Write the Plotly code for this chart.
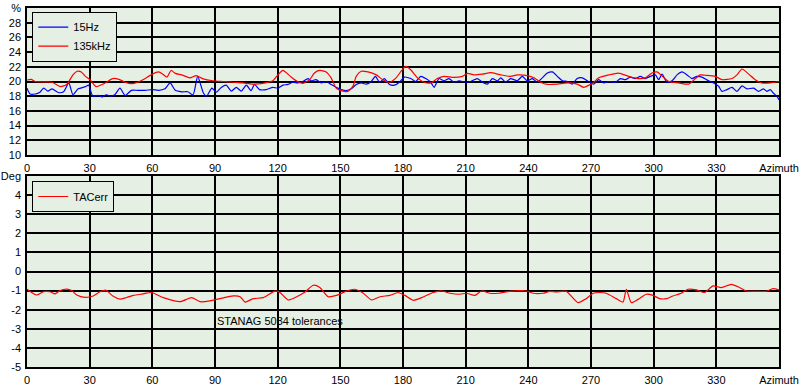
import plotly.graph_objects as go

# ---------------- data ----------------
az_15hz = [0, 1.5, 4, 6, 8, 10, 12, 15, 17.5, 20, 22, 24.5, 28, 29.5, 31.5, 34, 36, 38, 40, 42,
           44.5, 47, 50, 53, 56.5, 60, 63, 66, 68.5, 71, 74, 77, 79.5, 81.7, 84.5, 86, 88.5,
           90.6, 93, 95.4, 97.8, 100.2, 102.6, 105, 107.3, 108.9, 111.3, 114.5, 117.7, 120.1,
           122.5, 124.9, 127.3, 129.7, 132.1, 134.5, 136, 138.4, 140.8, 143.2, 145.6, 148,
           150.4, 152.8, 155.2, 157.6, 160, 162.4, 164.8, 166.8, 168.8, 171.1, 173.5, 175.9,
           178.3, 180.7, 183.7, 186.1, 188.5, 190.9, 193.3, 194.9, 197.2, 199.6, 202, 204.4,
           206.8, 210, 212.4, 215.6, 218, 220.4, 222.8, 225.2, 226.8, 229.1, 231.5, 234.7,
           237.1, 239.5, 241.9, 244.3, 246.7, 249.1, 251.5, 253.9, 256.3, 258.7, 261, 263.4,
           265.8, 268.2, 271.3, 273.7, 276.1, 278.5, 281.7, 284.1, 286.4, 288.8, 291.2, 293.6,
           296, 298.4, 300.8, 302.4, 304, 306.4, 308.8, 311.2, 313.6, 316, 318.3, 320.7, 323.1,
           326.3, 328.7, 331.1, 332.7, 335.1, 337.5, 339.9, 342.3, 344.7, 347.9, 350.2, 352.6,
           354.2, 355.8, 357.4, 359, 360]
val_15hz = [19.1, 18.3, 18.3, 18.5, 19.1, 18.7, 19.0, 18.5, 18.6, 19.8, 18.2, 19.0, 19.3, 19.5,
            18.0, 18.1, 17.9, 18.2, 18.0, 18.2, 19.1, 18.1, 18.8, 18.8, 18.8, 18.9, 18.8, 19.0,
            19.8, 18.8, 18.6, 18.6, 18.2, 20.7, 18.4, 18.0, 19.1,
            18.55, 19.2, 19.5, 18.7, 19.2, 18.7, 19.5, 18.75, 19.6, 18.9, 18.9, 19.2, 19.1,
            19.5, 19.6, 19.9, 19.8, 20.0, 20.4, 20.1, 20.25, 19.8, 20.0, 19.6, 19.2,
            18.9, 18.75, 19.0, 19.6, 19.8, 19.65, 20.0, 20.7, 19.9, 20.4, 19.6, 19.5,
            19.9, 20.6, 20.4, 20.0, 20.7, 20.4, 19.9, 19.2, 20.4, 20.1, 20.4, 19.9,
            20.1, 19.9, 20.0, 20.4, 19.9, 19.65, 20.4, 20.1, 20.5, 19.9, 20.4, 20.1,
            20.7, 20.1, 20.4, 19.9, 20.5, 21.15, 21.3, 20.7, 20.1, 20.0, 19.65, 20.4,
            20.5, 20.1, 19.65, 20.25, 19.8, 20.0, 19.9, 20.4, 20.25, 20.6, 20.4, 20.7,
            20.4, 20.7, 20.9, 20.25, 21.0, 19.9, 20.1, 20.9, 21.3, 20.9, 20.4, 20.7, 20.6,
            20.1, 19.8, 19.35, 18.65, 18.9, 19.2, 18.65, 19.4, 19.0, 19.1, 18.65, 19.0,
            18.65, 18.9, 18.4, 18.0, 17.5]

az_135khz = [0, 2, 4, 8, 12, 16, 19, 22, 24, 26, 28, 30, 33, 36, 38, 41, 44, 47, 50, 53, 56,
             60, 63, 65, 67, 69, 71, 74, 78, 81, 84, 89, 93.8, 98.6, 103.4, 108.1, 112.9,
             117.7, 120.1, 122.5, 125.7, 128.9, 132.1, 135.3, 137.6, 140, 143.2, 145.6, 148,
             150.4, 153.6, 156, 157.6, 160, 163.2, 167.2, 170.3, 173.5, 176.7, 179.1, 181.3,
             183.7, 186.9, 190.1, 193.3, 196.4, 199.6, 204.4, 208.4, 210.8, 214, 218, 222,
             226.8, 231.5, 234.7, 239.5, 242.7, 245.9, 249.1, 253.9, 258.7, 263.4, 266.6, 269,
             271, 273.7, 278.5, 283.3, 288, 292.8, 296, 299.2, 301.6, 304, 307.2, 312, 316.8,
             320, 322.3, 324.7, 329.5, 332.7, 337.5, 339.9, 342.3, 345.5, 348.6, 351.8, 355.8,
             360]
val_135khz = [20.2, 20.3, 20.0, 19.95, 19.9, 19.3, 19.6, 20.9, 21.4, 21.3, 20.7, 20.3, 19.3,
              19.6, 19.9, 20.4, 20.3, 19.9, 19.7, 19.9, 20.3, 21.0, 21.3, 21.0, 20.6, 21.5, 21.1,
              20.9, 20.5, 20.8, 20.4, 20.1, 20.0, 19.9, 19.8, 19.65, 19.75, 20.1, 20.9, 21.5,
              20.8, 20.1, 19.75, 20.25, 21.15, 21.5, 21.3, 20.5, 19.1, 18.75, 18.65, 19.35,
              20.7, 21.4, 21.3, 20.9, 20.25, 19.9, 20.5, 21.4, 22.05, 21.6, 20.5, 19.9, 19.8,
              20.4, 20.7, 20.55, 20.7, 21.1, 20.9, 21.0, 21.2, 20.9, 20.7, 20.9, 20.8, 20.5,
              19.9, 19.6, 19.65, 19.8, 19.65, 19.2, 19.5, 19.8, 20.5, 20.9, 21.15, 20.7, 20.4,
              20.5, 21.15, 21.3, 20.75, 20.0, 19.8, 19.65, 20.4, 20.9, 20.85, 20.7, 20.25, 20.4,
              20.9, 21.7, 21.0, 20.25, 19.8, 19.8, 20.0]

az_tac = [0, 4.6, 7.8, 11, 13.4, 15.8, 19, 21.4, 23.8, 27.8, 31.7, 34.9, 37.8, 41.3, 44.5,
          47.7, 50.9, 55.6, 59.6, 65.3, 73.3, 78.8, 82.8, 87.6, 92.4, 98.8, 102, 104.4, 108.3,
          113.1, 118.7, 121.1, 125.1, 129.1, 133.1, 137.1, 140.2, 144.2, 148.2, 153, 157, 161,
          165, 169, 173.7, 177.7, 180.9, 184.9, 188.9, 194.5, 198.5, 202.5, 207.2, 210.4,
          214.4, 217.6, 221.6, 225.6, 231.1, 239.1, 242.3, 247, 250.2, 253.4, 258.2, 263.8,
          267.8, 271, 274.2, 277.3, 282.1, 285.3, 286.9, 289.3, 292.5, 296.5, 299.7, 302.9,
          306.1, 309.2, 313.2, 316.4, 320.4, 324.4, 328.4, 332.4, 337.2, 341.1, 344.3, 349.1,
          353.9, 357.1, 360]
val_tac = [-0.93, -1.23, -1.06, -1.06, -1.17, -1.0, -0.92, -1.0, -1.23, -1.35, -1.28, -1.06,
           -0.98, -1.3, -1.45, -1.36, -1.25, -1.17, -1.1, -1.37, -1.58, -1.37, -1.58, -1.54,
           -1.42, -1.28, -1.32, -1.6, -1.42, -1.37, -1.03, -1.1, -1.49, -1.32, -1.07, -0.72,
           -0.84, -1.32, -1.25, -1.02, -0.93, -1.14, -1.49, -1.32, -1.25, -1.1, -1.25, -1.51,
           -1.37, -1.1, -1.02, -1.14, -1.19, -1.14, -1.25, -1.02, -1.14, -1.14, -1.04, -1.02,
           -1.14, -1.14, -1.04, -1.07, -1.04, -1.63, -1.42, -1.14, -1.1, -1.14, -1.42, -1.6,
           -0.93, -1.63, -1.46, -1.19, -1.25, -1.42, -1.42, -1.28, -1.14, -0.93, -0.96, -1.1,
           -0.75, -0.84, -0.67, -0.84, -1.02, -1.04, -1.04, -0.9, -0.96]

x_tickvals = [0, 30, 60, 90, 120, 150, 180, 210, 240, 270, 300, 330, 360]
x_ticktext = ["0", "30", "60", "90", "120", "150", "180", "210", "240", "270", "300", "330", "Azimuth"]
y1_tickvals = [10, 12, 14, 16, 18, 20, 22, 24, 26, 28, 30]
y1_ticktext = ["10", "12", "14", "16", "18", "20", "22", "24", "26", "28", "%"]
y2_tickvals = [-5, -4, -3, -2, -1, 0, 1, 2, 3, 4, 5]
y2_ticktext = ["-5", "-4", "-3", "-2", "-1", "0", "1", "2", "3", "4", "Deg"]

# ---------------- figure ----------------
FONT = "Liberation Sans, Arial, sans-serif"
BG = "#E6EFE3"

fig = go.Figure()
line_kw = dict(shape="spline", smoothing=0.6, width=1.2)
fig.add_trace(go.Scatter(x=az_15hz, y=val_15hz, name="15Hz", mode="lines",
                         line=dict(color="#0000FF", **line_kw), xaxis="x", yaxis="y", legend="legend"))
fig.add_trace(go.Scatter(x=az_135khz, y=val_135khz, name="135kHz", mode="lines",
                         line=dict(color="#FF0000", **line_kw), xaxis="x", yaxis="y", legend="legend"))
fig.add_trace(go.Scatter(x=az_tac, y=val_tac, name="TACerr", mode="lines",
                         line=dict(color="#FF0000", **line_kw), xaxis="x2", yaxis="y2", legend="legend2"))

axis_common = dict(showline=True, mirror=True, linecolor="black", linewidth=1.5,
                   showgrid=True, gridcolor="black", gridwidth=1.5, zeroline=False,
                   automargin=False, ticks="", ticklabelstandoff=2,
                   tickfont=dict(family=FONT, size=11, color="black"))

H = 385
top_px, mid1_px, mid2_px, bot_px = 8, 155, 176, 367
plot_h = bot_px - top_px

fig.update_layout(
    width=803, height=385,
    margin=dict(l=27, r=24, t=top_px, b=H - bot_px, autoexpand=False),
    paper_bgcolor="white", plot_bgcolor=BG,
    font=dict(family=FONT, size=11, color="black"),
    xaxis=dict(domain=[0, 1], range=[0, 360], tickvals=x_tickvals, ticktext=x_ticktext,
               anchor="y", **axis_common),
    yaxis=dict(domain=[(bot_px - mid1_px) / plot_h, 1], range=[10, 30],
               tickvals=y1_tickvals, ticktext=y1_ticktext, anchor="x", **axis_common),
    xaxis2=dict(domain=[0, 1], range=[0, 360], tickvals=x_tickvals, ticktext=x_ticktext,
                anchor="y2", **axis_common),
    yaxis2=dict(domain=[0, (bot_px - mid2_px) / plot_h], range=[-5, 5],
                tickvals=y2_tickvals, ticktext=y2_ticktext, anchor="x2", **axis_common),
    legend=dict(x=0.007, y=0.99, xanchor="left", yanchor="top", bgcolor=BG,
                bordercolor="black", borderwidth=1, font=dict(family=FONT, size=11),
                tracegroupgap=0, itemwidth=30),
    legend2=dict(x=0.007, y=(bot_px - 181) / plot_h, xanchor="left", yanchor="top", bgcolor=BG,
                 bordercolor="black", borderwidth=1, font=dict(family=FONT, size=11),
                 itemwidth=30),
    showlegend=True,
)

fig.add_annotation(x=90, y=-2.6, xref="x2", yref="y2", text="STANAG 5034 tolerances",
                   showarrow=False, xanchor="left", yanchor="middle",
                   font=dict(family=FONT, size=11, color="black"))

fig.write_html("out.html", config={"displayModeBar": False},
               post_script="document.body.style.margin='0px';")
